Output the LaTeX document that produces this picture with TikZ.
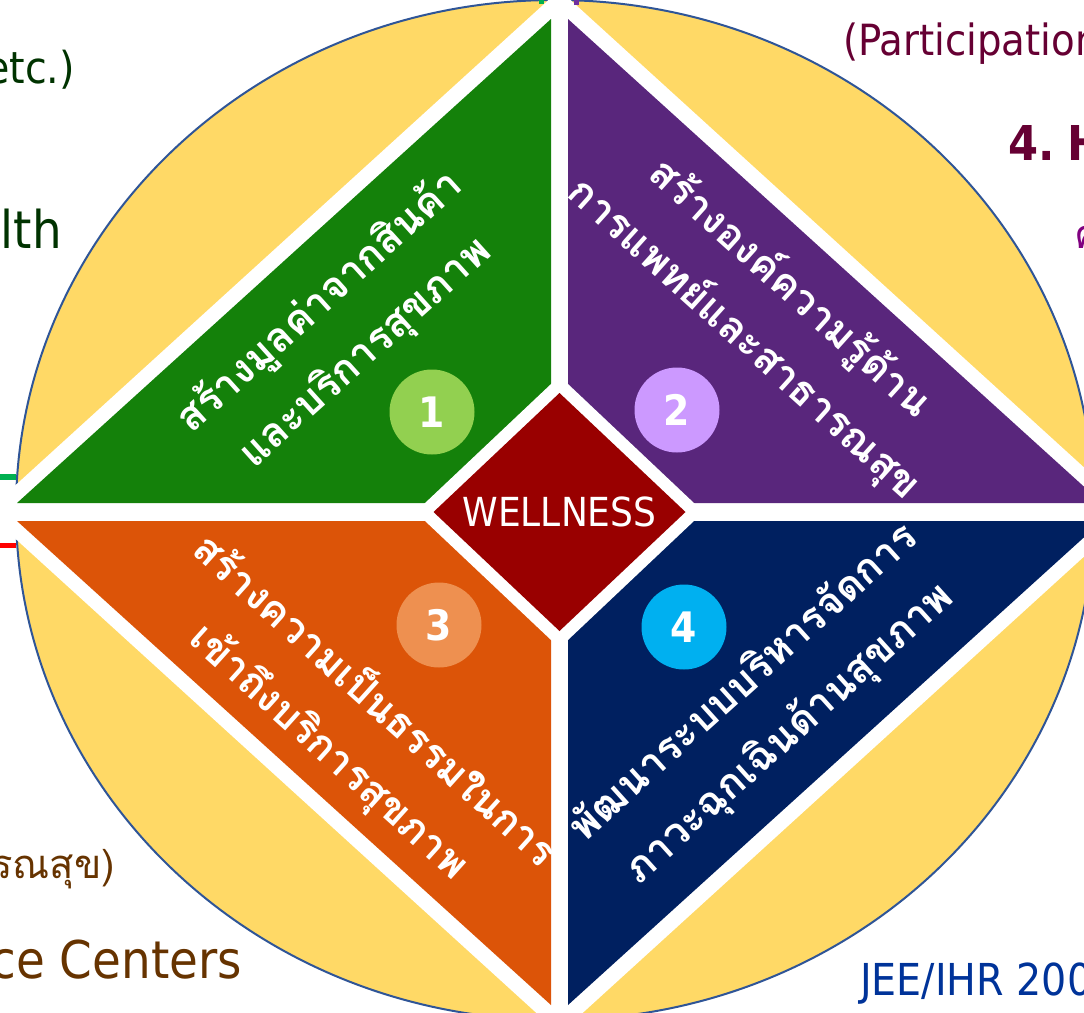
\documentclass[tikz,border=0pt]{standalone}
\usepackage{fontspec}
\setmainfont{DejaVu Sans Condensed}
\newfontfamily\thaifont[Script=Thai]{Loma}

\definecolor{ringgold}{RGB}{255,217,102}
\definecolor{ringblue}{RGB}{47,85,151}
\definecolor{gapgreen}{RGB}{20,129,10}
\definecolor{gappurple}{RGB}{89,38,124}
\definecolor{gaporange}{RGB}{220,84,8}
\definecolor{gapnavy}{RGB}{0,32,96}
\definecolor{wellred}{RGB}{153,0,0}
\definecolor{dotgreen}{RGB}{146,208,80}
\definecolor{dotlilac}{RGB}{204,153,255}
\definecolor{dotorange}{RGB}{238,144,80}
\definecolor{dotcyan}{RGB}{0,176,240}
\definecolor{txtgreen}{RGB}{0,51,0}
\definecolor{txtwine}{RGB}{102,0,51}
\definecolor{txtplum}{RGB}{128,0,128}
\definecolor{txtbrown}{RGB}{102,51,0}
\definecolor{txtblue}{RGB}{0,51,153}
\definecolor{stubgreen}{RGB}{0,176,80}
\definecolor{stubpurple}{RGB}{112,48,160}

\begin{document}
\begin{tikzpicture}[x=1pt,y=-1pt]
       \tikzstyle{thai}=[text=white, align=center, inner sep=0pt, font=\thaifont\bfseries\fontsize{41}{68}\selectfont]
       \tikzstyle{numdot}=[circle, minimum size=85pt, inner sep=0pt, text=white, font=\bfseries\fontsize{42}{42}\selectfont]
       \tikzstyle{side}=[inner sep=0pt]

       \useasboundingbox (0,0) rectangle (1084,1012);

       % ring and white cross
       \draw[ringblue, line width=2pt, fill=ringgold] (555,510) ellipse [x radius=539, y radius=510];
       \fill[white] (-14,512) -- (559.5,-10) -- (1133,512) -- (559.5,1034) -- cycle;

       \fill[gapgreen]  (17,503)  -- (551,503) -- (551,19);
       \fill[gappurple] (1102,503) -- (568,503) -- (568,19);
       \fill[gaporange] (17,521)  -- (551,521) -- (551,1005);
       \fill[gapnavy]   (1102,521) -- (568,521) -- (568,1005);

       \fill[white]   (415.5,512) -- (559.5,376) -- (703.5,512) -- (559.5,648) -- cycle;
       \fill[wellred] (433.5,512) -- (559.5,393) -- (685.5,512) -- (559.5,631) -- cycle;
       \node[text=white, font=\fontsize{40}{40}\selectfont] (well) at (559.5,512) {WELLNESS};

       % stubs at the edge
       \draw[stubgreen, line width=6pt] (0,477) -- (16,477);
       \draw[red, line width=5pt] (0,545) -- (16,545);
       \draw[stubgreen, line width=5pt] (541,0) -- (541,4);
       \draw[stubpurple, line width=5pt] (576.5,0) -- (576.5,5);

       % four parts
       \node[thai, rotate=42]  (t_1) at (343,328) {สร้างมูลค่าจากสินค้า\\และบริการสุขภาพ};
       \node[thai, rotate=-42] (t_2) at (767,314) {สร้างองค์ความรู้ด้าน\\การแพทย์และสาธารณสุข};
       \node[thai, rotate=-42] (t_3) at (352,726) {สร้างความเป็นธรรมในการ\\เข้าถึงบริการสุขภาพ};
       \node[thai, rotate=42]  (t_4) at (767,709) {พัฒนาระบบบริหารจัดการ\\ภาวะฉุกเฉินด้านสุขภาพ};

       \node[numdot, fill=dotgreen]  (n_1) at (432,412) {1};
       \node[numdot, fill=dotlilac]  (n_2) at (677,410) {2};
       \node[numdot, fill=dotorange] (n_3) at (439,625) {3};
       \node[numdot, fill=dotcyan]   (n_4) at (684,627) {4};

       % text cut by the page
       \node[side, anchor=base east, text=txtgreen, font=\fontsize{44}{44}\selectfont] (etc) at (75,83) {etc.)};
       \node[side, anchor=base east, text=txtgreen, font=\fontsize{52}{52}\selectfont] (lth) at (62,248) {lth};
       \node[side, anchor=base west, text=txtwine, font=\fontsize{43}{43}\selectfont] (part) at (843,55) {(Participation};
       \node[side, anchor=base west, text=txtwine, font=\bfseries\fontsize{48}{48}\selectfont] (four) at (1008,160) {4.\hspace{-0.15em} H};
       \node[side, anchor=base west, text=txtplum, font=\thaifont\fontsize{40}{40}\selectfont] (kho) at (1074,248) {ค};
       \node[side, anchor=base east, text=txtbrown, font=\thaifont\fontsize{40}{40}\selectfont] (pub) at (115,878) {รณสุข)};
       \node[side, anchor=base east, text=txtbrown, font=\fontsize{52}{52}\selectfont] (cent) at (242,978) {ce Centers};
       \node[side, anchor=base west, text=txtblue, font=\fontsize{44}{44}\selectfont] (jee) at (860,995) {JEE/IHR 200};
\end{tikzpicture}
\end{document}
